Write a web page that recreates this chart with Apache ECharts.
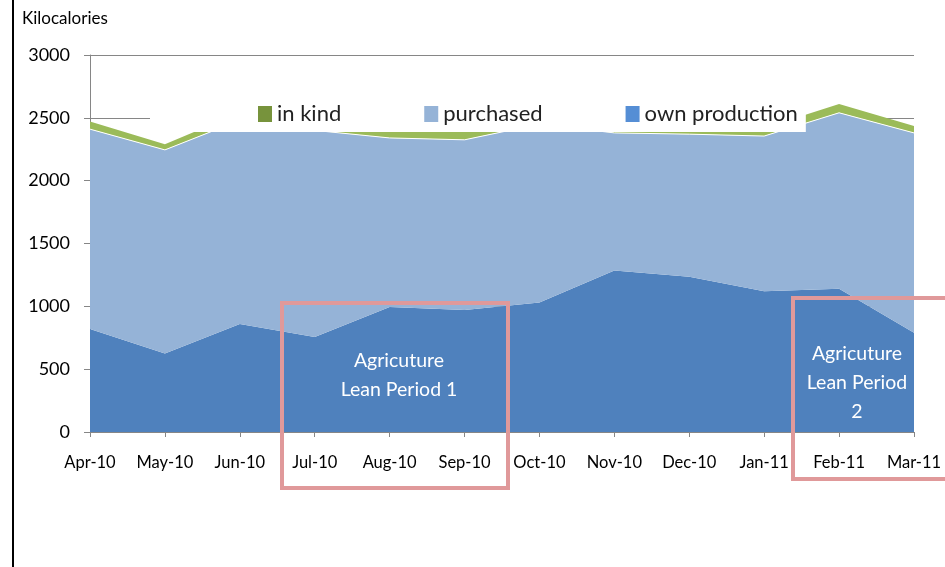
<!DOCTYPE html>
<html>
<head>
<meta charset="utf-8">
<script src="https://cdn.jsdelivr.net/npm/echarts@6/dist/echarts.min.js"></script>
<style>
  html, body { margin: 0; padding: 0; background: #fff; }
  #chart { width: 945px; height: 567px; }
</style>
</head>
<body>
<div id="chart"></div>
<script>
// months on the x axis
var months = ["Apr-10", "May-10", "Jun-10", "Jul-10", "Aug-10", "Sep-10", "Oct-10", "Nov-10", "Dec-10", "Jan-11", "Feb-11", "Mar-11"];
// kilocalories per source (stacked)
var ownProduction = [820, 625, 860, 755, 995, 970, 1030, 1285, 1235, 1120, 1140, 790];
var purchased = [1590, 1620, 1620, 1645, 1345, 1355, 1420, 1095, 1135, 1235, 1400, 1590];
var inKind = [60, 45, 60, 55, 55, 70, 55, 55, 55, 65, 70, 55];

var font = "Lato, 'Open Sans', sans-serif";
var chart = echarts.init(document.getElementById("chart"));

chart.setOption({
  animation: false,
  textStyle: { fontFamily: font },
  grid: { left: 90, right: 31, top: 55, bottom: 135 },
  legend: {
    data: ["in kind", "purchased", "own production"],
    left: 150,
    top: 96,
    padding: [7, 8, 7, 108],
    backgroundColor: "#fff",
    itemGap: 83,
    itemWidth: 14,
    itemHeight: 16,
    icon: "rect",
    textStyle: { fontSize: 22, color: "#222", fontFamily: font },
    itemStyle: { borderWidth: 0 }
  },
  xAxis: {
    type: "category",
    boundaryGap: false,
    data: months,
    axisLine: { lineStyle: { color: "#868686", width: 1 } },
    axisTick: { alignWithLabel: true, length: 5, lineStyle: { color: "#868686" } },
    axisLabel: { color: "#000", fontSize: 16.5, margin: 22, interval: 0 }
  },
  yAxis: {
    type: "value",
    min: 0,
    max: 3000,
    interval: 500,
    axisLine: { show: true, lineStyle: { color: "#868686", width: 1 } },
    axisTick: { show: true, length: 6, lineStyle: { color: "#868686" } },
    axisLabel: { color: "#000", fontSize: 18, margin: 20, formatter: function (v) { return String(v); } },
    splitLine: { lineStyle: { color: "#868686", width: 1 } }
  },
  series: [
    {
      name: "own production",
      type: "line",
      stack: "total",
      data: ownProduction,
      showSymbol: false,
      symbol: "none",
      itemStyle: { color: "#558ED5" },
      lineStyle: { color: "#4F81BD", width: 0 },
      areaStyle: { color: "#4F81BD", opacity: 1 }
    },
    {
      name: "purchased",
      type: "line",
      stack: "total",
      data: purchased,
      showSymbol: false,
      symbol: "none",
      itemStyle: { color: "#95B3D7" },
      lineStyle: { color: "#fff", width: 1 },
      areaStyle: { color: "#95B3D7", opacity: 1 }
    },
    {
      name: "in kind",
      type: "line",
      stack: "total",
      data: inKind,
      showSymbol: false,
      symbol: "none",
      itemStyle: { color: "#77933C" },
      lineStyle: { color: "#9BBB59", width: 0 },
      areaStyle: { color: "#9BBB59", opacity: 1 }
    }
  ],
  graphic: [
    {
      type: "line",
      shape: { x1: 13, y1: 0, x2: 13, y2: 567 },
      style: { stroke: "#000", lineWidth: 2 }
    },
    {
      type: "text",
      x: 22,
      y: 19,
      style: { text: "Kilocalories", fill: "#000", font: "17px " + font, verticalAlign: "middle" }
    },
    {
      type: "rect",
      z: 100,
      shape: { x: 282, y: 303, width: 226, height: 185 },
      style: { fill: "none", stroke: "#E0999A", lineWidth: 4 }
    },
    {
      type: "text",
      z: 101,
      x: 399,
      y: 375,
      style: {
        text: "Agricuture\nLean Period 1",
        fill: "#fff",
        font: "19.5px " + font,
        lineHeight: 29,
        align: "center",
        verticalAlign: "middle"
      }
    },
    {
      type: "rect",
      z: 100,
      shape: { x: 793, y: 298, width: 160, height: 181 },
      style: { fill: "none", stroke: "#E0999A", lineWidth: 4 }
    },
    {
      type: "text",
      z: 101,
      x: 857,
      y: 383,
      style: {
        text: "Agricuture\nLean Period\n2",
        fill: "#fff",
        font: "19.5px " + font,
        lineHeight: 29,
        align: "center",
        verticalAlign: "middle"
      }
    }
  ]
});
</script>
</body>
</html>
